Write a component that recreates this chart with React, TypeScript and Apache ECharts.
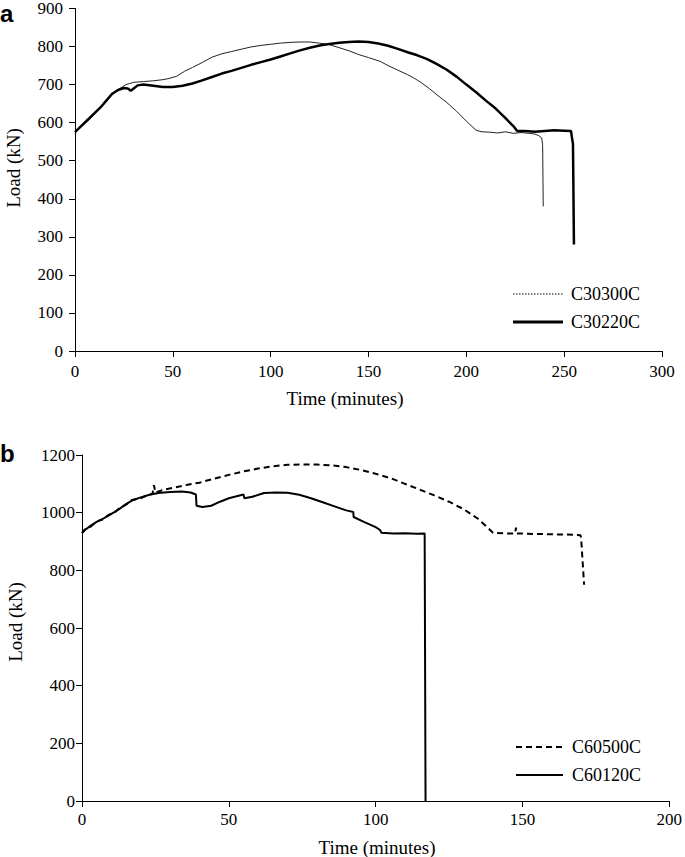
import React, { useEffect, useRef } from "react";
import * as echarts from "echarts";

// ---- Panel a ----
const aTicksX = [0, 50, 100, 150, 200, 250, 300];
const aTicksY = [0, 100, 200, 300, 400, 500, 600, 700, 800, 900];

const c30300cTime = [0, 2, 5, 8, 12, 16, 20, 23, 26, 28, 30, 35, 40, 45, 48, 52, 56, 60, 65, 70, 75, 80, 85, 90, 95, 100, 105, 110, 115, 120, 125, 130, 135, 140, 145, 150, 156, 160, 165, 170, 173, 177, 181, 185, 190, 195, 200, 205, 208, 212, 216, 220, 224, 228, 232, 235, 237, 238.5, 239, 239.3];
const c30300cLoad = [572, 585, 598, 612, 635, 658, 678, 690, 700, 703, 706, 708, 710, 713, 716, 722, 735, 745, 758, 772, 781, 787, 793, 799, 803, 806, 809, 811, 812, 812, 809, 805, 797, 789, 779, 771, 761, 750, 738, 726, 718, 705, 690, 673, 653, 630, 604, 580, 576, 575, 573, 576, 572, 574, 572, 570, 566, 560, 540, 380];

const c30220cTime = [0, 3, 6, 10, 13, 16, 19, 22, 25, 27, 28.5, 30, 32, 35, 40, 45, 50, 55, 60, 65, 70, 75, 80, 85, 90, 95, 100, 105, 110, 115, 120, 125, 130, 135, 140, 145, 150, 155, 160, 165, 170, 175, 180, 185, 190, 195, 200, 205, 210, 215, 220, 224, 226, 230, 235, 240, 245, 250, 253.5, 254, 254.5, 255];
const c30220cLoad = [575, 590, 605, 625, 640, 658, 676, 686, 691, 690, 684, 690, 698, 700, 697, 694, 694, 697, 703, 711, 720, 729, 736, 744, 752, 759, 766, 774, 782, 790, 797, 803, 807, 810, 812, 813, 812, 808, 802, 794, 785, 777, 767, 754, 739, 721, 700, 680, 658, 637, 612, 591, 578, 578, 576, 578, 580, 579, 578, 560, 545, 280];

// ---- Panel b ----
const bTicksX = [0, 50, 100, 150, 200];
const bTicksY = [0, 200, 400, 600, 800, 1000, 1200];

const c60500cTime = [0, 1, 3, 5, 7, 9, 11, 13, 15, 17, 20, 23, 24, 24.5, 25, 28, 32, 36, 40, 45, 50, 55, 60, 65, 70, 75, 80, 85, 90, 95, 100, 105, 110, 115, 120, 125, 130, 135, 139, 140, 145, 147.5, 147.8, 148, 155, 160, 165, 169.8, 170, 171];
const c60500cLoad = [928, 942, 952, 970, 976, 992, 1000, 1017, 1028, 1044, 1050, 1064, 1065, 1095, 1070, 1080, 1088, 1097, 1104, 1118, 1131, 1143, 1153, 1161, 1166, 1167, 1167, 1164, 1158, 1148, 1135, 1120, 1100, 1080, 1060, 1038, 1012, 978, 940, 930, 928, 928, 948, 928, 926, 925, 924, 922, 910, 750];

const c60120cTime = [0, 1, 3, 5, 7, 9, 11, 13, 15, 17, 20, 23, 26, 30, 34, 37, 38.8, 39, 41, 44, 47, 50, 53, 55, 55.3, 58, 62, 66, 70, 74, 78, 82, 86, 90, 92.4, 92.5, 96, 100, 101.5, 102, 106, 110, 114, 116.7, 117];
const c60120cLoad = [930, 940, 955, 968, 978, 990, 1002, 1015, 1030, 1042, 1053, 1062, 1068, 1072, 1073, 1070, 1063, 1024, 1020, 1024, 1038, 1050, 1058, 1063, 1050, 1055, 1068, 1070, 1069, 1062, 1050, 1036, 1022, 1008, 1002, 985, 968, 950, 940, 930, 928, 929, 927, 928, 0];

const zip = (xs: number[], ys: number[]) => xs.map((x, i) => [x, ys[i]]);

const FONT = "Liberation Serif";

export default function App() {
  const ref = useRef<HTMLDivElement>(null);
  useEffect(() => {
    if (!ref.current) return;
    const chart = echarts.init(ref.current, undefined, { renderer: "svg" });
    const axisLine = { show: true, lineStyle: { color: "#000", width: 1 } };
    const tick = { show: true, length: 6, lineStyle: { color: "#000", width: 1 } };
    const lab = (margin: number) => ({
      color: "#000",
      fontFamily: FONT,
      fontSize: 17,
      margin,
      formatter: (v: number) => String(v),
    });
    const text = (t: string, x: number, y: number, extra: any = {}) => ({
      type: "text",
      x,
      y,
      style: { text: t, fill: "#000", fontFamily: FONT, fontSize: 18, align: "left", verticalAlign: "middle", ...extra },
    });
    chart.setOption({
      animation: false,
      backgroundColor: "#fff",
      textStyle: { fontFamily: FONT, color: "#000" },
      grid: [
        { left: 75, top: 5, width: 587, height: 346 },
        { left: 82, top: 455, width: 591, height: 346 },
      ],
      xAxis: [
        { type: "value", gridIndex: 0, min: aTicksX[0], max: aTicksX[aTicksX.length - 1], interval: 50, axisLine, axisTick: tick, axisLabel: lab(12), splitLine: { show: false } },
        { type: "value", gridIndex: 1, min: bTicksX[0], max: bTicksX[bTicksX.length - 1], interval: 50, axisLine, axisTick: tick, axisLabel: lab(10), splitLine: { show: false } },
      ],
      yAxis: [
        { type: "value", gridIndex: 0, min: aTicksY[0], max: aTicksY[aTicksY.length - 1], interval: 100, axisLine, axisTick: tick, axisLabel: lab(12), splitLine: { show: false } },
        { type: "value", gridIndex: 1, min: bTicksY[0], max: bTicksY[bTicksY.length - 1], interval: 200, axisLine, axisTick: tick, axisLabel: lab(7), splitLine: { show: false } },
      ],
      series: [
        { name: "C30300C", type: "line", xAxisIndex: 0, yAxisIndex: 0, data: zip(c30300cTime, c30300cLoad), showSymbol: false, lineStyle: { color: "#222", width: 1 }, z: 2 },
        { name: "C30220C", type: "line", xAxisIndex: 0, yAxisIndex: 0, data: zip(c30220cTime, c30220cLoad), showSymbol: false, lineStyle: { color: "#000", width: 2.5 }, z: 3 },
        { name: "C60500C", type: "line", xAxisIndex: 1, yAxisIndex: 1, data: zip(c60500cTime, c60500cLoad), showSymbol: false, lineStyle: { color: "#000", width: 2, type: [6, 4] }, z: 2 },
        { name: "C60120C", type: "line", xAxisIndex: 1, yAxisIndex: 1, data: zip(c60120cTime, c60120cLoad), showSymbol: false, lineStyle: { color: "#000", width: 2 }, z: 3 },
      ],
      graphic: [
        { type: "text", x: 0, y: 1, style: { text: "a", fill: "#000", fontFamily: "Liberation Sans", fontWeight: "bold", fontSize: 24, verticalAlign: "top" } },
        { type: "text", x: 0, y: 441, style: { text: "b", fill: "#000", fontFamily: "Liberation Sans", fontWeight: "bold", fontSize: 24, verticalAlign: "top" } },
        { type: "text", x: 13, y: 168, rotation: Math.PI / 2, style: { text: "Load (kN)", fill: "#000", fontFamily: FONT, fontSize: 19, align: "center", verticalAlign: "middle" } },
        { type: "text", x: 15, y: 622, rotation: Math.PI / 2, style: { text: "Load (kN)", fill: "#000", fontFamily: FONT, fontSize: 19, align: "center", verticalAlign: "middle" } },
        text("Time (minutes)", 345, 398, { align: "center", fontSize: 19 }),
        text("Time (minutes)", 377, 847, { align: "center", fontSize: 19 }),
        { type: "line", shape: { x1: 513, y1: 294, x2: 563, y2: 294 }, style: { stroke: "#000", lineWidth: 1, lineDash: [1.5, 1.5] } },
        text("C30300C", 571, 294),
        { type: "line", shape: { x1: 513, y1: 322, x2: 563, y2: 322 }, style: { stroke: "#000", lineWidth: 3 } },
        text("C30220C", 571, 322),
        { type: "line", shape: { x1: 516, y1: 747, x2: 563, y2: 747 }, style: { stroke: "#000", lineWidth: 2, lineDash: [6, 4] } },
        text("C60500C", 572, 747),
        { type: "line", shape: { x1: 516, y1: 775, x2: 563, y2: 775 }, style: { stroke: "#000", lineWidth: 2 } },
        text("C60120C", 572, 775),
      ],
    });
    return () => chart.dispose();
  }, []);
  return <div ref={ref} style={{ position: "fixed", left: 0, top: 0, width: 685, height: 857, background: "#fff" }} />;
}
